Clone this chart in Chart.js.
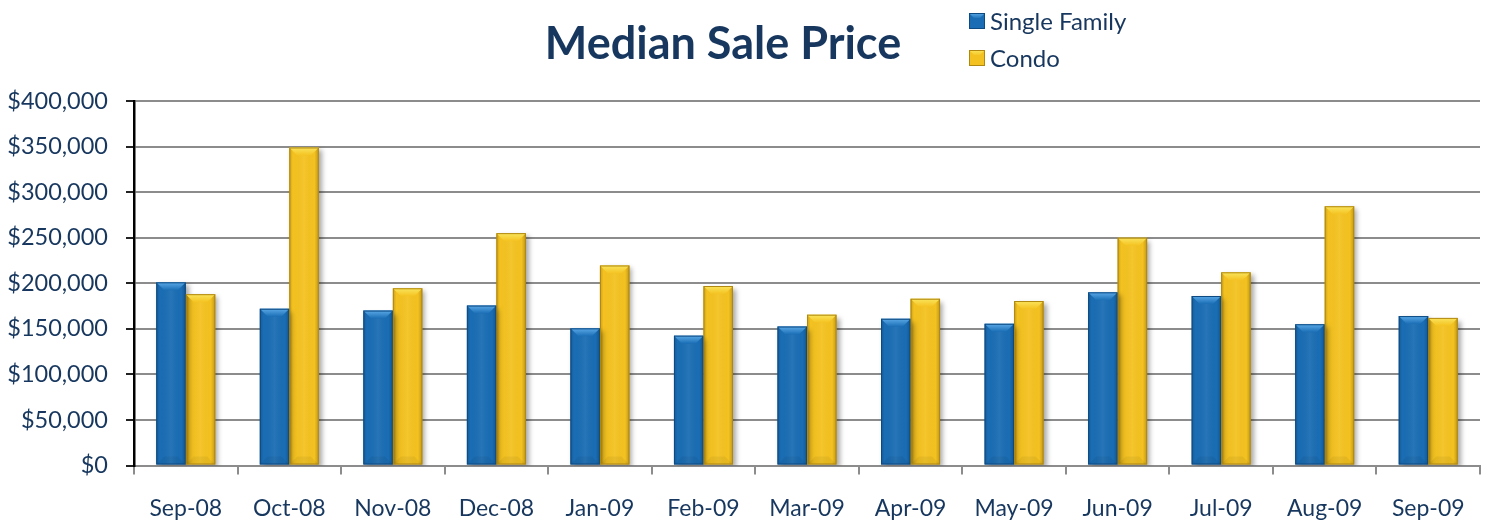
<!DOCTYPE html>
<html>
<head>
<meta charset="utf-8">
<script src="https://cdn.jsdelivr.net/npm/chart.js@4/dist/chart.umd.min.js"></script>
<style>
  html, body { margin: 0; padding: 0; background: #ffffff; }
  #wrap { position: relative; width: 1492px; height: 523px; }
</style>
</head>
<body>
<div id="wrap"><canvas id="c" width="1492" height="523"></canvas></div>
<script>
const categories = ['Sep-08','Oct-08','Nov-08','Dec-08','Jan-09','Feb-09','Mar-09','Apr-09','May-09','Jun-09','Jul-09','Aug-09','Sep-09'];
const singleFamily = [201000, 172000, 170000, 175500, 150500, 142500, 152500, 161000, 155500, 190000, 186000, 155000, 164000];
const condo = [188000, 349000, 194500, 255000, 219500, 197000, 165500, 183000, 180500, 250000, 212000, 284500, 162000];
const yTickLabels = ['$0','$50,000','$100,000','$150,000','$200,000','$250,000','$300,000','$350,000','$400,000'];
const seriesNames = ['Single Family', 'Condo'];
const chartTitle = 'Median Sale Price';

const textColor = '#17375E';
const FONT = 'Lato, Carlito, Calibri, sans-serif';

const palettes = [
  { main: '#1A6DB4', edge: '#0E4A82', light: '#5BAAE8', dark: '#10508E' },
  { main: '#F4C220', edge: '#B08810', light: '#FAE55E', dark: '#D9A514' }
];

const shadowPlugin = {
  id: 'barShadow',
  beforeDatasetsDraw(chart) {
    const ctx = chart.ctx;
    ctx.save();
    ctx.shadowColor = 'rgba(0,0,0,0.35)';
    ctx.shadowBlur = 5;
    ctx.shadowOffsetX = 3;
    ctx.shadowOffsetY = 3;
  },
  afterDatasetsDraw(chart) {
    const ctx = chart.ctx;
    ctx.restore();
    chart.data.datasets.forEach((ds, di) => {
      const meta = chart.getDatasetMeta(di);
      if (meta.hidden) return;
      const pal = palettes[di];
      meta.data.forEach(el => {
        const p = el.getProps(['x','y','base','width'], true);
        const left = p.x - p.width / 2, right = p.x + p.width / 2;
        const top = Math.min(p.y, p.base), bottom = Math.max(p.y, p.base);
        const w = right - left;
        ctx.save();
        const g = ctx.createLinearGradient(left, 0, right, 0);
        g.addColorStop(0, 'rgba(0,0,0,0.18)');
        g.addColorStop(0.12, 'rgba(0,0,0,0.0)');
        g.addColorStop(0.5, 'rgba(255,255,255,0.06)');
        g.addColorStop(0.85, 'rgba(0,0,0,0.0)');
        g.addColorStop(1, 'rgba(0,0,0,0.22)');
        ctx.fillStyle = g;
        ctx.fillRect(left, top, w, bottom - top);
        const b = Math.min(8, (bottom - top) / 2);
        const tg = ctx.createLinearGradient(0, top, 0, top + b);
        tg.addColorStop(0, pal.light);
        tg.addColorStop(1, pal.main);
        ctx.fillStyle = tg;
        ctx.beginPath();
        ctx.moveTo(left, top);
        ctx.lineTo(right, top);
        ctx.lineTo(right - b, top + b);
        ctx.lineTo(left + b, top + b);
        ctx.closePath();
        ctx.fill();
        ctx.fillStyle = 'rgba(0,0,0,0.05)';
        ctx.beginPath();
        ctx.moveTo(left, bottom);
        ctx.lineTo(right, bottom);
        ctx.lineTo(right - b, bottom - b);
        ctx.lineTo(left + b, bottom - b);
        ctx.closePath();
        ctx.fill();
        ctx.strokeStyle = pal.edge;
        ctx.lineWidth = 1;
        ctx.strokeRect(left + 0.5, top + 0.5, w - 1, bottom - top - 1);
        ctx.restore();
      });
    });
  }
};

const headerPlugin = {
  id: 'header',
  afterDraw(chart) {
    const ctx = chart.ctx;
    ctx.save();
    ctx.fillStyle = textColor;
    ctx.font = 'bold 45px ' + FONT;
    ctx.textAlign = 'center';
    ctx.textBaseline = 'alphabetic';
    ctx.fillText(chartTitle, 723, 59);
    ctx.font = '24px ' + FONT;
    ctx.textAlign = 'left';
    ctx.textBaseline = 'middle';
    const rows = [21, 58];
    seriesNames.forEach((name, i) => {
      const pal = palettes[i];
      const bx = 969, by = rows[i] - 8, s = 16;
      ctx.fillStyle = pal.main;
      ctx.fillRect(bx, by, s, s);
      const tg = ctx.createLinearGradient(0, by, 0, by + 6);
      tg.addColorStop(0, pal.light);
      tg.addColorStop(1, pal.main);
      ctx.fillStyle = tg;
      ctx.beginPath();
      ctx.moveTo(bx, by); ctx.lineTo(bx + s, by); ctx.lineTo(bx + s - 5, by + 5); ctx.lineTo(bx + 5, by + 5);
      ctx.closePath(); ctx.fill();
      ctx.strokeStyle = pal.edge; ctx.lineWidth = 1;
      ctx.strokeRect(bx + 0.5, by + 0.5, s - 1, s - 1);
      ctx.fillStyle = textColor;
      ctx.fillText(name, 990, rows[i] + 1);
    });
    ctx.restore();
  }
};

new Chart(document.getElementById('c'), {
  type: 'bar',
  data: {
    labels: categories,
    datasets: [
      { label: seriesNames[0], data: singleFamily, backgroundColor: palettes[0].main, borderWidth: 0,
        categoryPercentage: 0.57, barPercentage: 1.0 },
      { label: seriesNames[1], data: condo, backgroundColor: palettes[1].main, borderWidth: 0,
        categoryPercentage: 0.57, barPercentage: 1.0 }
    ]
  },
  options: {
    responsive: false,
    animation: false,
    devicePixelRatio: 1,
    layout: { padding: { top: 101, left: 0, right: 12, bottom: 0 } },
    plugins: {
      legend: { display: false },
      title: { display: false },
      tooltip: { enabled: false }
    },
    scales: {
      x: {
        grid: { offset: true, drawOnChartArea: false, color: '#8C8C8C', lineWidth: 2, tickLength: 9 },
        border: { color: '#8C8C8C', width: 2 },
        ticks: { color: textColor, font: { family: FONT, size: 23 }, padding: 20, maxRotation: 0 },
        afterFit(scale) { scale.height = 57.5; }
      },
      y: {
        min: 0, max: 400000,
        grid: { color: '#8C8C8C', lineWidth: 2, tickColor: '#222222', tickLength: 8 },
        border: { color: '#000000', width: 2.5 },
        ticks: {
          stepSize: 50000, color: textColor, font: { family: FONT, size: 23.5 }, padding: 18,
          callback: (v, i) => yTickLabels[i]
        },
        afterFit(scale) { scale.width = 134; }
      }
    }
  },
  plugins: [shadowPlugin, headerPlugin]
});
</script>
</body>
</html>
